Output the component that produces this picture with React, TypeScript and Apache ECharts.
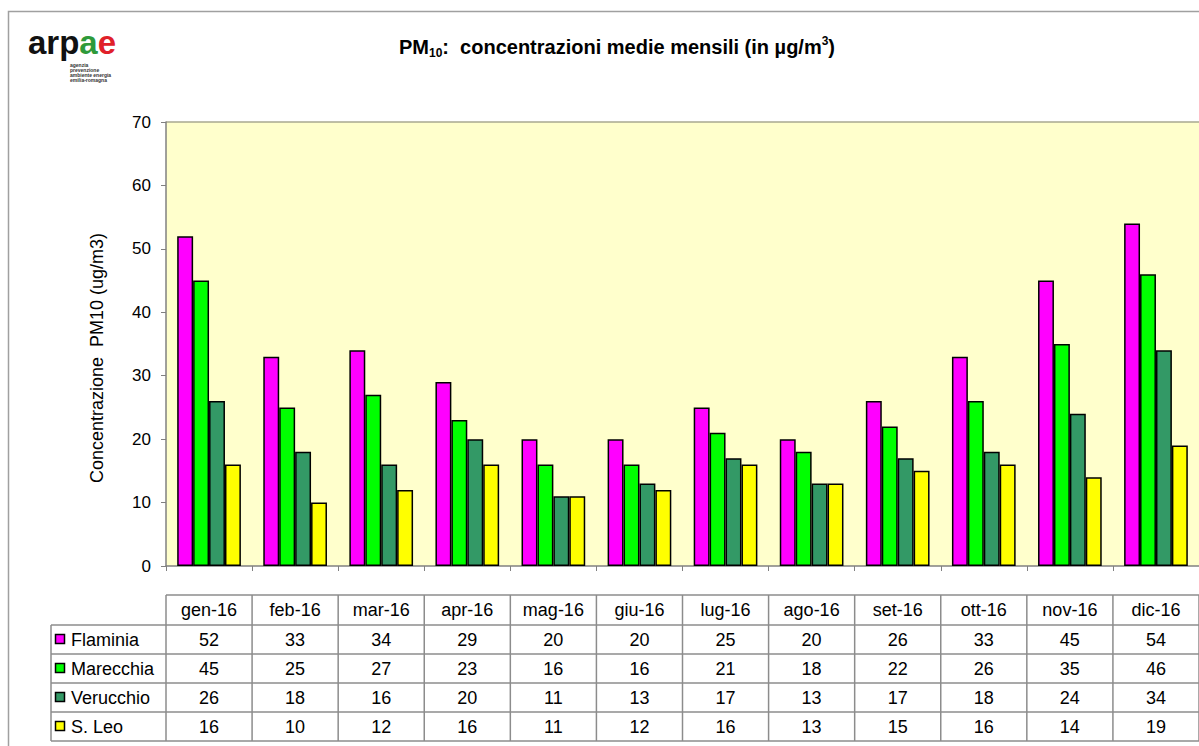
import React, { useEffect, useRef } from "react";
import * as echarts from "echarts";

const categories = ["gen-16", "feb-16", "mar-16", "apr-16", "mag-16", "giu-16", "lug-16", "ago-16", "set-16", "ott-16", "nov-16", "dic-16"];
const seriesNames = ["Flaminia", "Marecchia", "Verucchio", "S. Leo"];
const flaminia = [52, 33, 34, 29, 20, 20, 25, 20, 26, 33, 45, 54];
const marecchia = [45, 25, 27, 23, 16, 16, 21, 18, 22, 26, 35, 46];
const verucchio = [26, 18, 16, 20, 11, 13, 17, 13, 17, 18, 24, 34];
const sLeo = [16, 10, 12, 16, 11, 12, 16, 13, 15, 16, 14, 19];
const seriesColors = ["#FF00FF", "#00FF00", "#339966", "#FFFF00"];
const yTicks = { min: 0, max: 70, interval: 10 };
const yAxisTitle = "Concentrazione  PM10 (ug/m3)";

const FONT = "'Liberation Sans', Arial, sans-serif";

export default function App() {
  const ref = useRef<HTMLDivElement>(null);
  useEffect(() => {
    if (!ref.current) return;
    const chart = echarts.init(ref.current, null, { renderer: "svg" });
    const data = [flaminia, marecchia, verucchio, sLeo];
    chart.setOption({
      animation: false,
      backgroundColor: "#ffffff",
      grid: {
        left: 166,
        top: 122,
        width: 1033,
        height: 444,
        show: true,
        backgroundColor: "#FFFFCC",
        borderWidth: 0,
      },
      xAxis: {
        type: "category",
        data: categories,
        axisLine: { lineStyle: { color: "#808080", width: 1.5 } },
        axisTick: { show: true, length: 5, lineStyle: { color: "#808080" } },
        axisLabel: { show: false },
        splitLine: { show: false },
      },
      yAxis: {
        type: "value",
        min: yTicks.min,
        max: yTicks.max,
        interval: yTicks.interval,
        axisLine: { show: true, lineStyle: { color: "#808080", width: 1.5 } },
        axisTick: { show: true, length: 5, lineStyle: { color: "#808080" } },
        axisLabel: { fontFamily: FONT, fontSize: 17, color: "#000", margin: 15 },
        splitLine: { show: false },
      },
      series: seriesNames.map((name, i) => ({
        type: "bar",
        name,
        data: data[i],
        barGap: "0%",
        barCategoryGap: "26%",
        itemStyle: { color: seriesColors[i], borderColor: "#000", borderWidth: 1.5 },
      })),
    });

    const xs = categories.map((c) => chart.convertToPixel({ xAxisIndex: 0 }, c) as number);
    const step = xs.length > 1 ? xs[1] - xs[0] : 86;
    const half = step / 2;
    const lineStyle = { stroke: "#8c8c8c", lineWidth: 1.5 };
    const headTop = 595;
    const rowTops = [625, 654, 683, 712, 741];
    const tableLeft = 51;
    const colLeft = xs[0] - half;
    const colRight = xs[xs.length - 1] + half;
    const els: any[] = [];

    // outer frame
    els.push({ type: "rect", shape: { x: 8.5, y: 11.5, width: 1300, height: 800 }, style: { fill: "none", stroke: "#a0a0a0", lineWidth: 1.5 }, silent: true });
    // plot area top border
    els.push({ type: "line", shape: { x1: 166, y1: 122, x2: 1250, y2: 122 }, style: { stroke: "#a8a890", lineWidth: 1.5 } });

    // y axis title
    els.push({
      type: "text",
      x: 97,
      y: 358,
      rotation: Math.PI / 2,
      style: { text: yAxisTitle, align: "center", verticalAlign: "middle", fontFamily: FONT, fontSize: 18, fill: "#000" },
    });

    // logo
    els.push({
      type: "text",
      left: 28,
      top: 26,
      style: {
        text: "{k|arp}{g|a}{r|e}",
        rich: {
          k: { fontFamily: FONT, fontWeight: 900, fontSize: 33, fill: "#111" },
          g: { fontFamily: FONT, fontWeight: 900, fontSize: 33, fill: "#2e9a3a" },
          r: { fontFamily: FONT, fontWeight: 900, fontSize: 33, fill: "#e0202a" },
        },
      },
    });
    els.push({
      type: "text",
      left: 70,
      top: 62,
      style: {
        text: "agenzia\nprevenzione\nambiente energia\nemilia-romagna",
        fontFamily: FONT,
        fontSize: 5,
        lineHeight: 5,
        fontWeight: "bold",
        fill: "#333",
      },
    });

    // title
    els.push({
      type: "text",
      x: 617,
      y: 47,
      style: {
        text: "{b|PM}{s|10}{b|:  concentrazioni medie mensili (in µg/m}{p|3}{b|)}",
        align: "center",
        verticalAlign: "middle",
        rich: {
          b: { fontFamily: FONT, fontWeight: "bold", fontSize: 20, fill: "#000", lineHeight: 24 },
          s: { fontFamily: FONT, fontWeight: "bold", fontSize: 12, fill: "#000", lineHeight: 24, verticalAlign: "bottom" },
          p: { fontFamily: FONT, fontWeight: "bold", fontSize: 12, fill: "#000", lineHeight: 24, verticalAlign: "top" },
        },
      },
    });

    // table horizontal lines
    els.push({ type: "line", shape: { x1: colLeft, y1: headTop, x2: colRight + 20, y2: headTop }, style: lineStyle });
    rowTops.forEach((y) => {
      els.push({ type: "line", shape: { x1: tableLeft, y1: y, x2: colRight + 20, y2: y }, style: lineStyle });
    });
    // vertical lines
    els.push({ type: "line", shape: { x1: tableLeft, y1: rowTops[0], x2: tableLeft, y2: rowTops[4] }, style: lineStyle });
    for (let i = 0; i <= xs.length; i++) {
      const x = colLeft + i * step;
      els.push({ type: "line", shape: { x1: x, y1: headTop, x2: x, y2: rowTops[4] }, style: lineStyle });
    }
    // header texts
    categories.forEach((c, i) => {
      els.push({
        type: "text",
        x: xs[i],
        y: (headTop + rowTops[0]) / 2,
        style: { text: c, align: "center", verticalAlign: "middle", fontFamily: FONT, fontSize: 18, fill: "#000" },
      });
    });
    // rows
    seriesNames.forEach((name, r) => {
      const cy = (rowTops[r] + rowTops[r + 1]) / 2;
      els.push({
        type: "rect",
        shape: { x: 55.5, y: cy - 5, width: 9, height: 9 },
        style: { fill: seriesColors[r], stroke: "#000", lineWidth: 1.5 },
      });
      els.push({
        type: "text",
        x: 71,
        y: cy,
        style: { text: name, align: "left", verticalAlign: "middle", fontFamily: FONT, fontSize: 18, fill: "#000" },
      });
      data[r].forEach((v, i) => {
        els.push({
          type: "text",
          x: xs[i],
          y: cy,
          style: { text: String(v), align: "center", verticalAlign: "middle", fontFamily: FONT, fontSize: 18, fill: "#000" },
        });
      });
    });

    chart.setOption({ graphic: { elements: els } });
    return () => chart.dispose();
  }, []);

  return <div ref={ref} style={{ position: "absolute", left: 0, top: 0, width: 1199, height: 746 }} />;
}
